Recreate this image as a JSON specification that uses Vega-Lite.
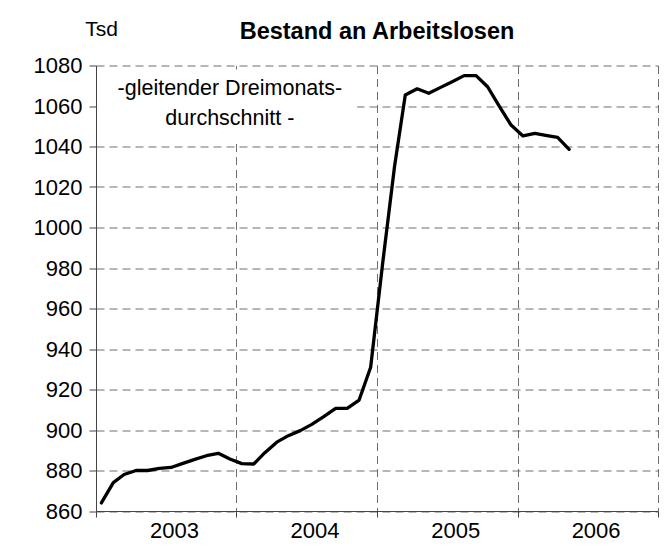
{
  "$schema": "https://vega.github.io/schema/vega-lite/v6.json",
  "width": 562,
  "height": 445.5,
  "autosize": {"type": "none"},
  "padding": {"left": 96, "top": 65.5, "right": 13, "bottom": 36},
  "background": "white",
  "config": {"view": {"stroke": null}, "font": "Liberation Sans"},
  "title": {
    "text": "Bestand an Arbeitslosen",
    "frame": "group",
    "anchor": "middle",
    "baseline": "alphabetic",
    "font": "Liberation Sans",
    "fontSize": 23.5,
    "fontWeight": "bold",
    "color": "black",
    "offset": 0,
    "dy": 44
  },
  "data": {
    "values": [
      {"date": "2003-01-15", "value": 864},
      {"date": "2003-02-15", "value": 874},
      {"date": "2003-03-15", "value": 878},
      {"date": "2003-04-15", "value": 880},
      {"date": "2003-05-15", "value": 880},
      {"date": "2003-06-15", "value": 881},
      {"date": "2003-07-15", "value": 881.5},
      {"date": "2003-08-15", "value": 883.5},
      {"date": "2003-09-15", "value": 885.5},
      {"date": "2003-10-15", "value": 887.3},
      {"date": "2003-11-15", "value": 888.5},
      {"date": "2003-12-15", "value": 885.7},
      {"date": "2004-01-15", "value": 883.4},
      {"date": "2004-02-15", "value": 883.2},
      {"date": "2004-03-15", "value": 888.8},
      {"date": "2004-04-15", "value": 894},
      {"date": "2004-05-15", "value": 897.2},
      {"date": "2004-06-15", "value": 899.7},
      {"date": "2004-07-15", "value": 902.8},
      {"date": "2004-08-15", "value": 906.6},
      {"date": "2004-09-15", "value": 910.7},
      {"date": "2004-10-15", "value": 910.7},
      {"date": "2004-11-15", "value": 914.8},
      {"date": "2004-12-15", "value": 931},
      {"date": "2005-01-15", "value": 982},
      {"date": "2005-02-15", "value": 1030},
      {"date": "2005-03-15", "value": 1065.4},
      {"date": "2005-04-15", "value": 1068.5},
      {"date": "2005-05-15", "value": 1066.3},
      {"date": "2005-06-15", "value": 1069.2},
      {"date": "2005-07-15", "value": 1072},
      {"date": "2005-08-15", "value": 1075},
      {"date": "2005-09-15", "value": 1075},
      {"date": "2005-10-15", "value": 1069.5},
      {"date": "2005-11-15", "value": 1059.7},
      {"date": "2005-12-15", "value": 1050.6},
      {"date": "2006-01-15", "value": 1045.2},
      {"date": "2006-02-15", "value": 1046.5},
      {"date": "2006-03-15", "value": 1045.5},
      {"date": "2006-04-15", "value": 1044.5},
      {"date": "2006-05-15", "value": 1038.6}
    ]
  },
  "layer": [
    {
      "mark": {"type": "line", "color": "black", "strokeWidth": 3.3, "strokeJoin": "round", "strokeCap": "round"},
      "encoding": {
        "x": {
          "field": "date",
          "type": "temporal",
          "scale": {
            "type": "utc",
            "domain": [
              {"year": 2003, "month": 1, "date": 1, "utc": true},
              {"year": 2007, "month": 1, "date": 1, "utc": true}
            ]
          },
          "axis": {
            "title": null,
            "values": [
              {"year": 2003, "month": 1, "date": 1, "utc": true},
              {"year": 2004, "month": 1, "date": 1, "utc": true},
              {"year": 2005, "month": 1, "date": 1, "utc": true},
              {"year": 2006, "month": 1, "date": 1, "utc": true},
              {"year": 2007, "month": 1, "date": 1, "utc": true}
            ],
            "labelExpr": "utcyear(datum.value) < 2007 ? utcFormat(datum.value, '%Y') : ''",
            "labelOffset": 78,
            "labelPadding": 3,
            "labelFontSize": 22,
            "labelFont": "Liberation Sans",
            "labelColor": "black",
            "labelFlush": false,
            "labelOverlap": false,
            "labelBound": false,
            "tickSize": 6,
            "tickColor": "#444444",
            "domainColor": "#444444",
            "grid": true,
            "gridColor": "#6e6e6e",
            "gridDash": [8, 5],
            "gridWidth": 1
          }
        },
        "y": {
          "field": "value",
          "type": "quantitative",
          "scale": {"domain": [860, 1080], "nice": false, "zero": false},
          "axis": {
            "values": [860, 880, 900, 920, 940, 960, 980, 1000, 1020, 1040, 1060, 1080],
            "format": "d",
            "title": "Tsd",
            "titleAngle": 0,
            "titleAlign": "center",
            "titleBaseline": "alphabetic",
            "titleX": 5,
            "titleY": -30.5,
            "titleFontSize": 21,
            "titleFontWeight": "normal",
            "titleFont": "Liberation Sans",
            "titleColor": "black",
            "labelFontSize": 22,
            "labelFont": "Liberation Sans",
            "labelColor": "black",
            "labelPadding": 7,
            "tickSize": 7,
            "tickColor": "#444444",
            "domainColor": "#444444",
            "grid": true,
            "gridColor": "#6e6e6e",
            "gridDash": [8, 5],
            "gridWidth": 1
          }
        }
      }
    },
    {
      "data": {"values": [{}]},
      "mark": {"type": "rect", "color": "white", "opacity": 1},
      "encoding": {
        "x": {"datum": {"year": 2003, "month": 1, "date": 4, "utc": true}, "type": "temporal"},
        "x2": {"datum": {"year": 2004, "month": 11, "date": 10, "utc": true}},
        "y": {"datum": 1042, "type": "quantitative"},
        "y2": {"datum": 1078}
      }
    },
    {
      "data": {"values": [{}]},
      "mark": {
        "type": "text",
        "text": ["-gleitender Dreimonats-", "durchschnitt -"],
        "font": "Liberation Sans",
        "fontSize": 21.5,
        "color": "black",
        "align": "center",
        "baseline": "alphabetic",
        "lineHeight": 30
      },
      "encoding": {
        "x": {"datum": {"year": 2003, "month": 12, "date": 15, "utc": true}, "type": "temporal"},
        "y": {"datum": 1065.6, "type": "quantitative"}
      }
    }
  ]
}
